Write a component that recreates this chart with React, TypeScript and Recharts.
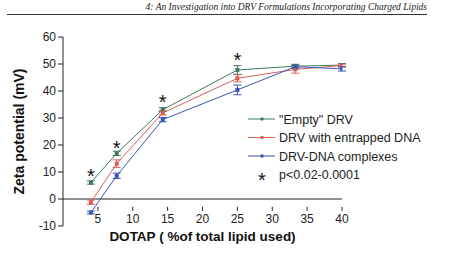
import {
  ComposedChart,
  ErrorBar,
  Line,
  ReferenceLine,
  Scatter,
  XAxis,
  YAxis,
} from "recharts";

// DOTAP content (% of total lipid) and zeta potential (mV) per formulation
const dotap = [4, 7.7, 14.3, 25, 33.3, 40];
const emptyDrv = [6.1, 16.9, 33.1, 47.8, 49.2, 49.6];
const emptyDrvErr = [0.6, 0.8, 0.7, 1.6, 0.7, 0.6];
const entrappedDna = [-1.2, 13.1, 31.9, 44.7, 48.0, 49.4];
const entrappedDnaErr = [0.8, 1.4, 0.8, 1.3, 1.4, 0.5];
const dnaComplexes = [-5.0, 8.6, 29.4, 40.4, 49.0, 48.2];
const dnaComplexesErr = [0.5, 1.0, 0.8, 1.8, 0.6, 0.8];

// significance markers drawn above the points
const starX = [4, 7.7, 14.3, 25];
const starY = [10.4, 20.8, 37.8, 53.3];

const xTicks = [5, 10, 15, 20, 25, 30, 35, 40];
const yTicks = [-10, 0, 10, 20, 30, 40, 50, 60];

const GREEN = "#3f7a5e";
const RED = "#d9605a";
const BLUE = "#3a55b5";

const W = 469;
const H = 270;
const M = { top: 37, right: 127, bottom: 43, left: 0 };
const Y_MIN = -10;
const Y_MAX = 60;
// the x axis crosses at y = 0, so its ticks sit above the plot bottom
const AXIS_SHIFT = ((H - M.top - M.bottom) * (0 - Y_MIN)) / (Y_MAX - Y_MIN);

const rows = dotap.map((x, i) => ({
  x,
  empty: emptyDrv[i],
  emptyErr: emptyDrvErr[i],
  entrapped: entrappedDna[i],
  entrappedErr: entrappedDnaErr[i],
  complexes: dnaComplexes[i],
  complexesErr: dnaComplexesErr[i],
}));
const stars = starX.map((x, i) => ({ x, star: starY[i] }));

const font = "Arial, 'Liberation Sans', sans-serif";

const series = [
  { key: "empty", name: '"Empty" DRV', color: GREEN },
  { key: "entrapped", name: "DRV with entrapped DNA", color: RED },
  { key: "complexes", name: "DRV-DNA complexes", color: BLUE },
];

function squareDot(color: string) {
  return (props: any) => {
    const { cx, cy, index } = props;
    if (cx == null || cy == null) return <g key={index} />;
    return <rect key={index} x={cx - 2} y={cy - 2} width={4} height={4} fill={color} />;
  };
}

function XTick(props: any) {
  const { x, y, payload } = props;
  const y0 = y - AXIS_SHIFT;
  return (
    <g>
      <line x1={x} y1={y0} x2={x} y2={y0 + 4} stroke="#222" strokeWidth={1} />
      <text x={x} y={y0 + 16} textAnchor="middle" fontSize={12} fill="#222" fontFamily={font}>
        {payload.value}
      </text>
    </g>
  );
}

function Star({ x, y }: { x: number; y: number }) {
  return (
    <text x={x} y={y + 12} textAnchor="middle" fontSize={20} fill="#111" fontFamily={font}>
      *
    </text>
  );
}

function StarShape(props: any) {
  return <Star x={props.cx} y={props.cy} />;
}

function LegendBox() {
  return (
    <svg
      width={220}
      height={80}
      style={{ position: "absolute", left: 248, top: 119, overflow: "visible" }}
    >
      {series.map((s, i) => (
        <g key={s.key} transform={`translate(0, ${i * 18.5})`}>
          <line x1={0} y1={0} x2={27} y2={0} stroke={s.color} strokeWidth={1} />
          <circle cx={14} cy={0} r={1.8} fill={s.color} />
          <text x={31} y={4.5} fontSize={12.5} fill="#222" fontFamily={font}>
            {s.name}
          </text>
        </g>
      ))}
      <g transform="translate(0, 55.5)">
        <Star x={14} y={0} />
        <text x={31} y={4.5} fontSize={12.5} fill="#222" fontFamily={font}>
          p&lt;0.02-0.0001
        </text>
      </g>
    </svg>
  );
}

export default function App() {
  return (
    <div
      style={{
        position: "absolute",
        left: 0,
        top: 0,
        width: W,
        height: H,
        background: "#fff",
        overflow: "hidden",
      }}
    >
      <div
        style={{
          position: "absolute",
          left: 7,
          top: 2,
          width: 420,
          textAlign: "right",
          fontFamily: "'Liberation Serif', 'Times New Roman', serif",
          fontStyle: "italic",
          fontSize: 9.5,
          color: "#222",
          borderBottom: "1px solid #333",
          lineHeight: "11px",
          paddingBottom: 1,
        }}
      >
        4: An Investigation into DRV Formulations Incorporating Charged Lipids
      </div>
      <ComposedChart width={W} height={H} data={rows} margin={M}>
        <XAxis
          dataKey="x"
          type="number"
          domain={[0, 40]}
          ticks={xTicks}
          axisLine={false}
          tickLine={false}
          tick={<XTick />}
          height={1}
          interval={0}
          allowDataOverflow
          label={{
            value: "DOTAP ( %of total lipid used)",
            position: "bottom",
            offset: 4,
            style: { fontFamily: font, fontSize: 13.5, fontWeight: 700, fill: "#111" },
          }}
        />
        <YAxis
          type="number"
          domain={[Y_MIN, Y_MAX]}
          ticks={yTicks}
          interval={0}
          width={63}
          stroke="#222"
          tickSize={5}
          tick={{ fontSize: 12, fill: "#222", fontFamily: font }}
          label={{
            value: "Zeta potential (mV)",
            angle: -90,
            position: "insideLeft",
            offset: 19,
            style: {
              fontFamily: font,
              fontSize: 14,
              fontWeight: 700,
              fill: "#111",
              textAnchor: "middle",
            },
          }}
        />
        <ReferenceLine y={0} stroke="#222" strokeWidth={1} />
        {series.map((s) => (
          <Line
            key={s.key}
            dataKey={s.key}
            name={s.name}
            stroke={s.color}
            strokeWidth={1}
            dot={squareDot(s.color)}
            activeDot={false}
            isAnimationActive={false}
          >
            <ErrorBar dataKey={`${s.key}Err`} width={4} stroke={s.color} strokeWidth={1} />
          </Line>
        ))}
        <Scatter
          data={stars}
          dataKey="star"
          shape={<StarShape />}
          isAnimationActive={false}
          legendType="none"
        />
      </ComposedChart>
      <LegendBox />
    </div>
  );
}
